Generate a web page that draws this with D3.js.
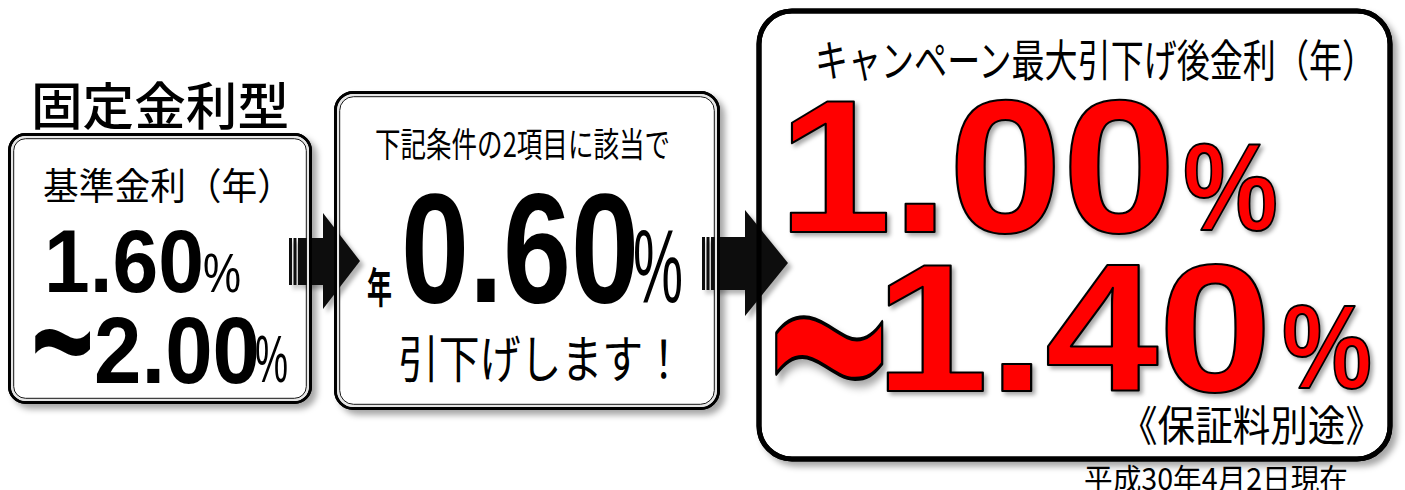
<!DOCTYPE html>
<html><head><meta charset="utf-8">
<script src="https://cdn.jsdelivr.net/npm/d3@7"></script>
<style>html,body{margin:0;padding:0;background:#fff;}svg{display:block;}</style>
</head><body>
<script>
// ---- content data ----
const heading = ["固定金利型"];
const baseLabel = ["基準金利（年）"];
const baseRates = ["1.60", "2.00"];
const conditionLabel = ["下記条件の2項目に該当で"];
const yearMark = ["年"];
const discountRate = ["0.60"];
const discountNote = ["引下げします！"];
const campaignLabel = ["キャンペーン最大引下げ後金利（年）"];
const campaignRates = ["1.00", "1.40"];
const feeNote = ["《保証料別途》"];
const asOf = ["平成30年4月2日現在"];
const pct = "%";
const tilde = "~";

const W = 1405, H = 490;
const svg = d3.select("body").append("svg").attr("width", W).attr("height", H);
const defs = svg.append("defs");
function shadow(id, dx, dy, sd, op) {
  const f = defs.append("filter").attr("id", id).attr("x", "-20%").attr("y", "-20%").attr("width", "140%").attr("height", "140%");
  f.append("feDropShadow").attr("dx", dx).attr("dy", dy).attr("stdDeviation", sd)
    .attr("flood-color", "#000").attr("flood-opacity", op);
}
shadow("boxSh", 5, 5, 3, 0.35);
shadow("txtSh", 3, 3, 2, 0.35);
shadow("arrSh", 4, 4, 2, 0.3);

const CJK = "'Noto Sans CJK JP', sans-serif";
const LAT = "'Liberation Sans', Arial, sans-serif";
const NAR = "'Liberation Sans Narrow', 'Liberation Sans', Arial, sans-serif";

function txt(g, o) {
  const t = g.append("text").text(o.text)
    .attr("x", o.x).attr("y", o.y)
    .attr("font-family", o.family || CJK)
    .attr("font-size", o.size)
    .attr("font-weight", o.weight || 400)
    .attr("fill", o.fill || "#000");
  if (o.baseline) t.attr("dominant-baseline", o.baseline);
  if (o.len) t.attr("textLength", o.len).attr("lengthAdjust", "spacingAndGlyphs");
  if (o.stroke) t.attr("stroke", o.stroke).attr("stroke-width", o.sw || 2).attr("stroke-linejoin", "round");
  if (o.filter) t.attr("filter", o.filter);
  if (o.transform) t.attr("transform", o.transform);
  return t;
}

// ---- boxes ----
const boxes = [
  {x: 9.5, y: 134.5, w: 301, h: 268, r: 16, dbl: true},
  {x: 335.5, y: 92.5, w: 383, h: 316, r: 18, dbl: true},
  {x: 759, y: 11, w: 631, h: 448, r: 33, dbl: false}
];
const gFill = svg.append("g");
gFill.selectAll("rect").data(boxes).join("rect")
  .attr("x", d => d.x).attr("y", d => d.y).attr("width", d => d.w).attr("height", d => d.h)
  .attr("rx", d => d.r).attr("fill", "#fff")
  .attr("stroke", "#000").attr("stroke-width", d => d.dbl ? 3 : 5)
  .attr("filter", "url(#boxSh)");

// ---- arrows (striped right arrows) ----
const arrows = [
  {x0: 289, sy0: 238, sy1: 285, hx: 323, hy0: 213, hy1: 309, tip: 360},
  {x0: 702, sy0: 237, sy1: 290, hx: 745, hy0: 210, hy1: 316, tip: 788}
];
const gArr = svg.append("g").attr("filter", "url(#arrSh)");
arrows.forEach(a => {
  const g = gArr.append("g");
  const ty = (a.hy0 + a.hy1) / 2;
  g.append("rect").attr("x", a.x0).attr("y", a.sy0).attr("width", 3).attr("height", a.sy1 - a.sy0).attr("fill", "#111");
  g.append("rect").attr("x", a.x0 + 4.5).attr("y", a.sy0).attr("width", 3).attr("height", a.sy1 - a.sy0).attr("fill", "#111");
  const p = d3.path();
  p.moveTo(a.x0 + 9, a.sy0); p.lineTo(a.hx, a.sy0); p.lineTo(a.hx, a.hy0); p.lineTo(a.tip, ty);
  p.lineTo(a.hx, a.hy1); p.lineTo(a.hx, a.sy1); p.lineTo(a.x0 + 9, a.sy1); p.closePath();
  g.append("path").attr("d", p.toString()).attr("fill", "#111");
});

// ---- box borders on top ----
const gBor = svg.append("g").attr("fill", "none");
boxes.forEach(d => {
  if (d.dbl) {
    gBor.append("rect").attr("x", d.x).attr("y", d.y).attr("width", d.w).attr("height", d.h).attr("rx", d.r)
      .attr("stroke", "#000").attr("stroke-width", 3);
    gBor.append("rect").attr("x", d.x + 2.6).attr("y", d.y + 2.6).attr("width", d.w - 5.2).attr("height", d.h - 5.2).attr("rx", d.r - 2.6)
      .attr("stroke", "#e6e6e6").attr("stroke-width", 2.2);
    gBor.append("rect").attr("x", d.x + 4.2).attr("y", d.y + 4.2).attr("width", d.w - 8.4).attr("height", d.h - 8.4).attr("rx", d.r - 4.2)
      .attr("stroke", "#111").attr("stroke-width", 1);
  } else {
    gBor.append("rect").attr("x", d.x).attr("y", d.y).attr("width", d.w).attr("height", d.h).attr("rx", d.r)
      .attr("stroke", "#000").attr("stroke-width", 5);
  }
});

// ---- texts ----
const gT = svg.append("g");
// heading
txt(gT, {text: heading[0], x: 31, y: 103, size: 51, len: 258, baseline: "central", weight: 500});
// box 1
txt(gT, {text: baseLabel[0], x: 43, y: 184, size: 37, len: 250, baseline: "central"});
txt(gT, {text: baseRates[0], x: 44, y: 292, size: 89, len: 160, family: NAR, weight: 700});
txt(gT, {text: pct, x: 203, y: 292, size: 55, len: 38, family: NAR, weight: 400});
txt(gT, {text: tilde, x: 0, y: 0, size: 90, family: LAT, weight: 700,
  transform: "translate(31,399) scale(1.2,1.9)"});
txt(gT, {text: baseRates[1], x: 94, y: 383, size: 95, len: 166, family: NAR, weight: 700});
txt(gT, {text: pct, x: 255, y: 382, size: 66, len: 33, family: NAR, weight: 400});
// box 2
txt(gT, {text: conditionLabel[0], x: 375, y: 142, size: 34, len: 295, baseline: "central"});
txt(gT, {text: yearMark[0], x: 367, y: 284, size: 42, len: 25, baseline: "central", weight: 700});
txt(gT, {text: discountRate[0], x: 401, y: 302, size: 156, len: 238, family: NAR, weight: 700});
txt(gT, {text: pct, x: 633, y: 302, size: 103, len: 50, family: NAR, weight: 400});
txt(gT, {text: discountNote[0], x: 398, y: 356, size: 51, len: 286, baseline: "central"});
// box 3
txt(gT, {text: campaignLabel[0], x: 815, y: 58, size: 44, len: 560, baseline: "central"});
const red = {fill: "#ff0000", stroke: "#000", sw: 2, filter: "url(#txtSh)", family: LAT, weight: 700};
txt(gT, Object.assign({text: campaignRates[0], x: 778, y: 232, size: 189, len: 398}, red));
txt(gT, Object.assign({text: pct, x: 1183, y: 230, size: 125, len: 95, weight: 400}, red));
txt(gT, Object.assign({text: tilde, x: 0, y: 0, size: 190, transform: "translate(768,477) scale(1.1,2.05)", sw: 1.1}, red));
txt(gT, Object.assign({text: campaignRates[1], x: 875, y: 391, size: 182, len: 397}, red));
txt(gT, Object.assign({text: pct, x: 1282, y: 388, size: 118, len: 90, weight: 400}, red));
txt(gT, {text: feeNote[0], x: 1120, y: 422, size: 42, len: 263, baseline: "central"});
txt(gT, {text: asOf[0], x: 1084, y: 477, size: 30, len: 264, baseline: "central"});
</script>
</body></html>
